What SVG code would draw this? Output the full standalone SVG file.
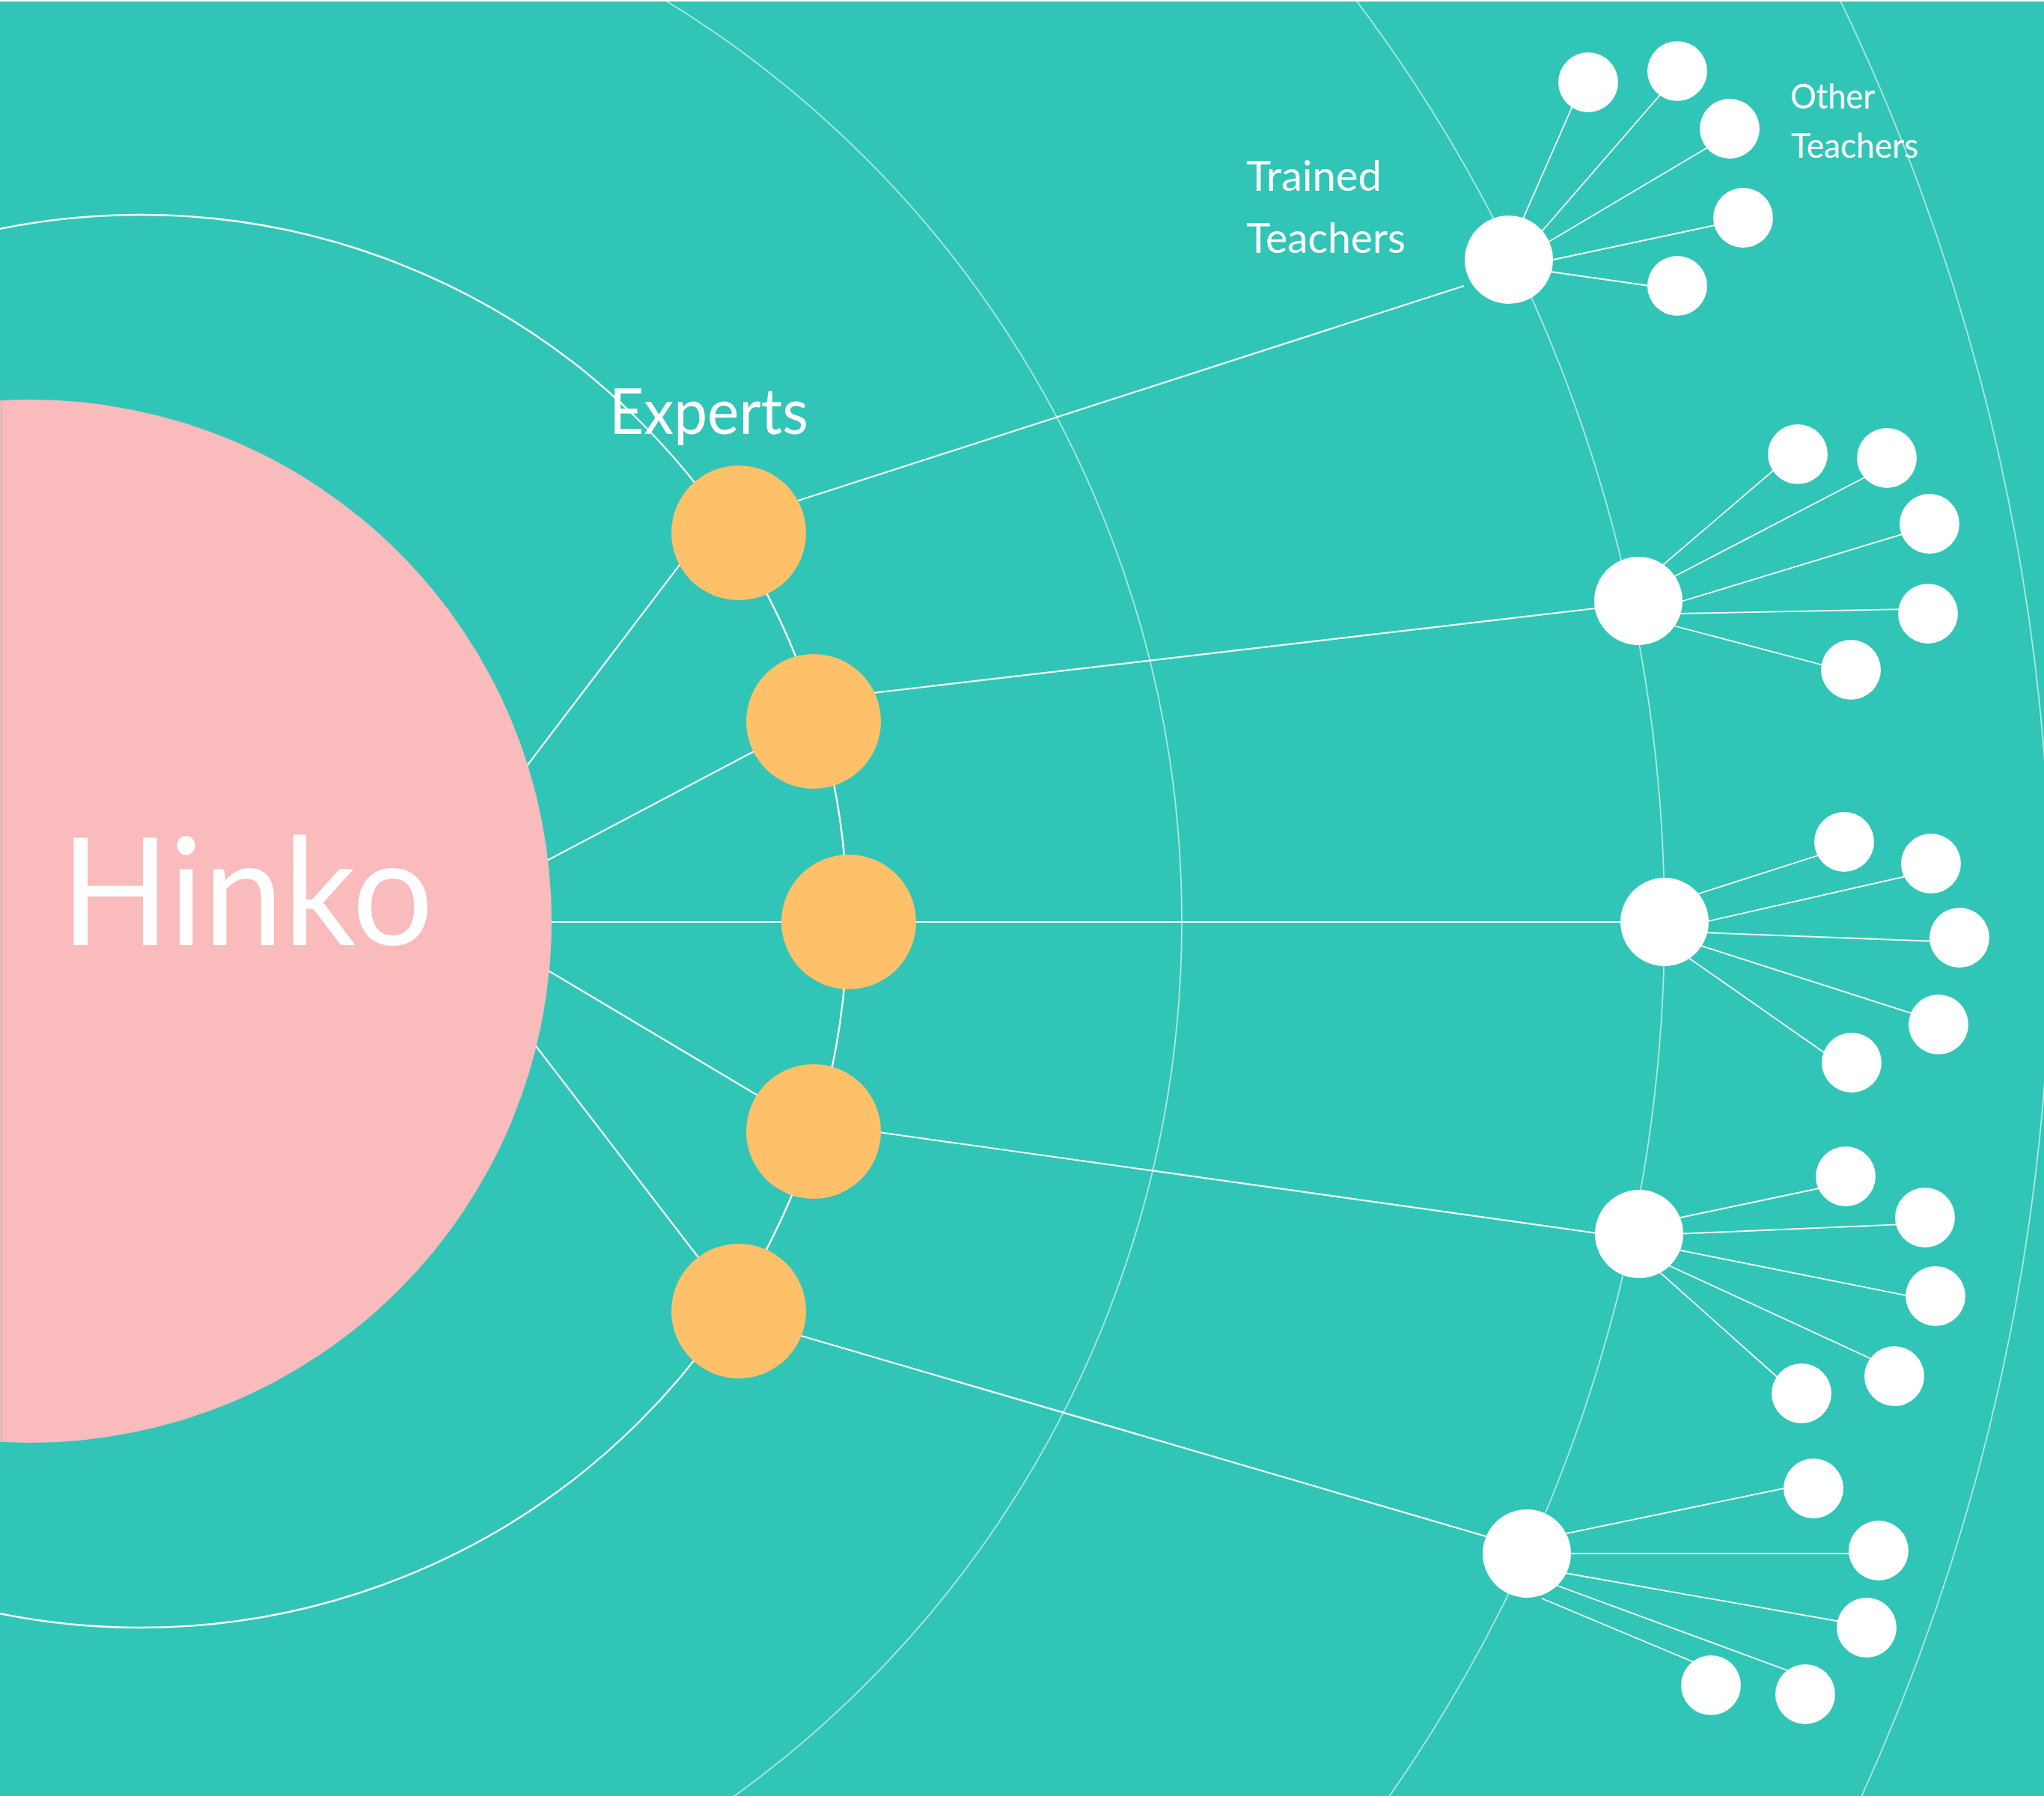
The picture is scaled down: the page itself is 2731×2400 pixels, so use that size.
<svg xmlns="http://www.w3.org/2000/svg" width="2731" height="2400" viewBox="0 0 2731 2400">
<style>
.ring{fill:none;stroke:#ffffff;stroke-opacity:0.6;stroke-width:1.8}
.ring-main{fill:none;stroke:#ffffff;stroke-width:2.4}
.link{stroke:#ffffff;stroke-width:2.2;fill:none}
.twig{stroke:#ffffff;stroke-width:1.8;fill:none}
.hub{fill:#FABBBD}
.expert{fill:#FFC06A}
.trained{fill:#ffffff}
.other{fill:#ffffff}
.lbl{fill:#ffffff;font-family:Lato,"Noto Sans","DejaVu Sans",sans-serif;font-weight:400}
</style>
<rect x="0" y="0" width="2731" height="2400" fill="#ffffff"/>
<rect x="0" y="2" width="2731" height="2398" fill="#31C5B7"/>
<g id="rings">
<circle class="ring-main" cx="188" cy="1231" r="944"/>
<circle class="ring" cx="137" cy="1231" r="1442"/>
<circle class="ring" cx="181" cy="1231" r="2043"/>
<circle class="ring" cx="-92" cy="1231" r="2832"/>
</g>
<g id="connectors">
<line class="link" x1="699" y1="1030" x2="914" y2="747"/>
<line class="link" x1="723" y1="1154" x2="1017" y2="999"/>
<line class="link" x1="727" y1="1232" x2="1053" y2="1232"/>
<line class="link" x1="724" y1="1292" x2="1016" y2="1466"/>
<line class="link" x1="710" y1="1390" x2="939" y2="1688"/>
<line class="link" x1="1057" y1="672" x2="1956" y2="382"/>
<line class="link" x1="1158" y1="927" x2="2140" y2="812"/>
<line class="link" x1="1215" y1="1232" x2="2175" y2="1232"/>
<line class="link" x1="1167" y1="1512" x2="2141" y2="1649"/>
<line class="link" x1="1060" y1="1782" x2="1992" y2="2055"/>
<line class="twig" x1="2032" y1="299" x2="2104" y2="135"/>
<line class="twig" x1="2055" y1="315" x2="2224" y2="120"/>
<line class="twig" x1="2061" y1="328" x2="2290" y2="192"/>
<line class="twig" x1="2066" y1="349" x2="2301" y2="299"/>
<line class="twig" x1="2064" y1="362" x2="2211" y2="383"/>
<line class="twig" x1="2216" y1="760" x2="2376" y2="623"/>
<line class="twig" x1="2230" y1="774" x2="2501" y2="633"/>
<line class="twig" x1="2239" y1="806" x2="2551" y2="711"/>
<line class="twig" x1="2239" y1="820" x2="2547" y2="814"/>
<line class="twig" x1="2228" y1="834" x2="2444" y2="891"/>
<line class="twig" x1="2261" y1="1197" x2="2439" y2="1140"/>
<line class="twig" x1="2273" y1="1233" x2="2551" y2="1170"/>
<line class="twig" x1="2272" y1="1246" x2="2588" y2="1258"/>
<line class="twig" x1="2264" y1="1261" x2="2563" y2="1357"/>
<line class="twig" x1="2249" y1="1275" x2="2445" y2="1412"/>
<line class="twig" x1="2236" y1="1629" x2="2440" y2="1586"/>
<line class="twig" x1="2239" y1="1649" x2="2543" y2="1636"/>
<line class="twig" x1="2236" y1="1669" x2="2556" y2="1733"/>
<line class="twig" x1="2223" y1="1688" x2="2507" y2="1819"/>
<line class="twig" x1="2212" y1="1695" x2="2381" y2="1846"/>
<line class="twig" x1="2084" y1="2051" x2="2393" y2="1987"/>
<line class="twig" x1="2090" y1="2076" x2="2480" y2="2076"/>
<line class="twig" x1="2085" y1="2101" x2="2465" y2="2168"/>
<line class="twig" x1="2073" y1="2116" x2="2396" y2="2235"/>
<line class="twig" x1="2060" y1="2136" x2="2270" y2="2224"/>
</g>
<g id="hinko">
<circle class="hub" cx="40" cy="1231" r="697"/>
<line x1="2.5" y1="536" x2="2.5" y2="1926" stroke="#b9b0b0" stroke-width="1"/>
<text class="lbl" x="81" y="1263" font-size="200" textLength="498" lengthAdjust="spacingAndGlyphs">Hinko</text>
</g>
<g id="experts">
<circle class="expert" cx="987" cy="712" r="90"/>
<circle class="expert" cx="1087" cy="964" r="90"/>
<circle class="expert" cx="1134" cy="1232" r="90"/>
<circle class="expert" cx="1087" cy="1512" r="90"/>
<circle class="expert" cx="987" cy="1752" r="90"/>
<text class="lbl" x="814" y="580" font-size="85" textLength="266" lengthAdjust="spacingAndGlyphs">Experts</text>
</g>
<g id="trained-teachers">
<circle class="trained" cx="2016" cy="347" r="59"/>
<circle class="trained" cx="2189" cy="803" r="59"/>
<circle class="trained" cx="2224" cy="1232" r="59"/>
<circle class="trained" cx="2190" cy="1649" r="59"/>
<circle class="trained" cx="2040" cy="2076" r="59"/>
<text class="lbl" x="1665" y="255" font-size="57" textLength="181" lengthAdjust="spacingAndGlyphs">Trained</text>
<text class="lbl" x="1665" y="338" font-size="57" textLength="213" lengthAdjust="spacingAndGlyphs">Teachers</text>
</g>
<g id="other-teachers">
<circle class="other" cx="2122" cy="110" r="40"/>
<circle class="other" cx="2241" cy="95" r="40"/>
<circle class="other" cx="2311" cy="172" r="40"/>
<circle class="other" cx="2329" cy="291" r="40"/>
<circle class="other" cx="2241" cy="382" r="40"/>
<circle class="other" cx="2402" cy="607" r="40"/>
<circle class="other" cx="2521" cy="612" r="40"/>
<circle class="other" cx="2578" cy="700" r="40"/>
<circle class="other" cx="2576" cy="820" r="40"/>
<circle class="other" cx="2473" cy="895" r="40"/>
<circle class="other" cx="2464" cy="1125" r="40"/>
<circle class="other" cx="2580" cy="1154" r="40"/>
<circle class="other" cx="2618" cy="1253" r="40"/>
<circle class="other" cx="2590" cy="1369" r="40"/>
<circle class="other" cx="2474" cy="1420" r="40"/>
<circle class="other" cx="2466" cy="1572" r="40"/>
<circle class="other" cx="2572" cy="1627" r="40"/>
<circle class="other" cx="2586" cy="1732" r="40"/>
<circle class="other" cx="2531" cy="1839" r="40"/>
<circle class="other" cx="2407" cy="1862" r="40"/>
<circle class="other" cx="2423" cy="1989" r="40"/>
<circle class="other" cx="2510" cy="2072" r="40"/>
<circle class="other" cx="2494" cy="2175" r="40"/>
<circle class="other" cx="2412" cy="2264" r="40"/>
<circle class="other" cx="2286" cy="2252" r="40"/>
<text class="lbl" x="2392" y="145" font-size="46" textLength="113" lengthAdjust="spacingAndGlyphs">Other</text>
<text class="lbl" x="2393" y="211" font-size="46" textLength="170" lengthAdjust="spacingAndGlyphs">Teachers</text>
</g>
</svg>
